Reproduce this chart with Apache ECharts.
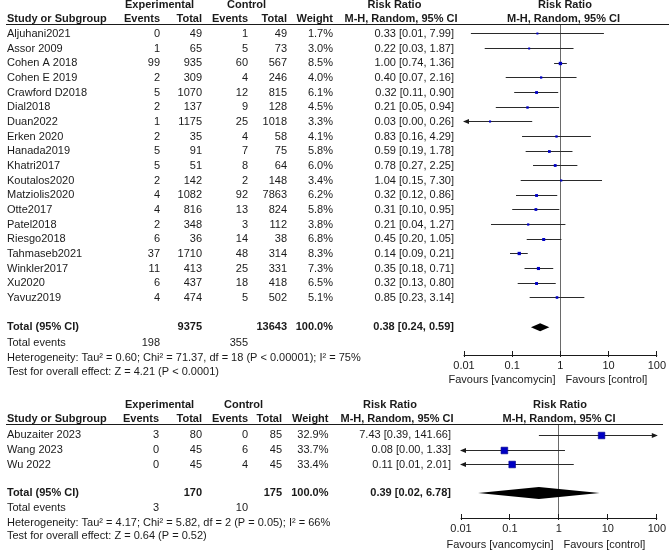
<!DOCTYPE html>
<html><head><meta charset="utf-8">
<script src="https://cdn.jsdelivr.net/npm/echarts@6/dist/echarts.min.js"></script>
<style>html,body{margin:0;padding:0;background:#fff}#c{width:669px;height:552px}</style>
</head><body><div id="c"></div>
<script>
// ---------- data ----------
const tickLabels = ['0.01', '0.1', '1', '10', '100'];
const tickValues = [0.01, 0.1, 1, 10, 100];

const names1 = ['Aljuhani2021','Assor 2009','Cohen A 2018','Cohen E 2019','Crawford D2018','Dial2018','Duan2022','Erken 2020','Hanada2019','Khatri2017','Koutalos2020','Matziolis2020','Otte2017','Patel2018','Riesgo2018','Tahmaseb2021','Winkler2017','Xu2020','Yavuz2019'];
const expEv1 = [0,1,99,2,5,2,1,2,5,5,2,4,4,2,6,37,11,6,4];
const expTot1 = [49,65,935,309,1070,137,1175,35,91,51,142,1082,816,348,36,1710,413,437,474];
const ctlEv1 = [1,5,60,4,12,9,25,4,7,8,2,92,13,3,14,48,25,18,5];
const ctlTot1 = [49,73,567,246,815,128,1018,58,75,64,148,7863,824,112,38,314,331,418,502];
const weight1 = [1.7,3.0,8.5,4.0,6.1,4.5,3.3,4.1,5.8,6.0,3.4,6.2,5.8,3.8,6.8,8.3,7.3,6.5,5.1];
const rr1 = [0.333,0.2246,1.00,0.398,0.32,0.2076,0.0347,0.83,0.59,0.78,1.04,0.32,0.31,0.2146,0.45,0.14,0.35,0.32,0.85];
const lo1 = [0.0139,0.0269,0.74,0.0734,0.11,0.0457,0.0047,0.16,0.19,0.27,0.15,0.12,0.10,0.0363,0.20,0.09,0.18,0.13,0.23];
const hi1 = [7.99,1.87,1.36,2.16,0.90,0.94,0.26,4.29,1.78,2.25,7.30,0.86,0.95,1.27,1.05,0.21,0.71,0.80,3.14];
const total1 = {exp: 9375, ctl: 13643, weight: '100.0%', rr: 0.38, lo: 0.2447, hi: 0.59, expEv: 198, ctlEv: 355};
const het1 = 'Heterogeneity: Tau² = 0.60; Chi² = 71.37, df = 18 (P < 0.00001); I² = 75%';
const test1 = 'Test for overall effect: Z = 4.21 (P < 0.0001)';

const names2 = ['Abuzaiter 2023','Wang 2023','Wu 2022'];
const expEv2 = [3,0,0];
const expTot2 = [80,45,45];
const ctlEv2 = [0,6,4];
const ctlTot2 = [85,45,45];
const weight2 = [32.9,33.7,33.4];
const rr2 = [7.43,0.077,0.111];
const lo2 = [0.39,0.0045,0.0062];
const hi2 = [141.66,1.33,2.01];
const total2 = {exp: 170, ctl: 175, weight: '100.0%', rr: 0.39, lo: 0.0224, hi: 6.78, expEv: 3, ctlEv: 10};
const het2 = 'Heterogeneity: Tau² = 4.17; Chi² = 5.82, df = 2 (P = 0.05); I² = 66%';
const test2 = 'Test for overall effect: Z = 0.64 (P = 0.52)';

const favLeft = 'Favours [vancomycin]';
const favRight = 'Favours [control]';

// ---------- layout ----------
const FF = '"Liberation Sans", Arial, sans-serif';
const TXT = '#1a1a1a';
const AXMIN = 0.01, AXMAX = 100;
const snap = v => Math.round(v - 0.5) + 0.5;

const layouts = [
  { grid: {left: 464, top: 24, width: 200, height: 331}, ymin: -0.68, ymax: 21.89,
    cols: {name: 7, expEv: 160, expTot: 202, ctlEv: 248, ctlTot: 287, weight: 333, rr: 454},
    expHdr: 125, ctlHdr: 227, rrHdr: 394.5, mhHdr: 401, plotHdr: 565, plotMh: 563.5,
    hdrRow1: -1.98, hdrRow2: -0.99, totalRow: 20, evRow: 21.09, hetRow: 22.11, testRow: 23.07,
    favRow: 23.6, lineEnd: 669, diamondH: 8 },
  { grid: {left: 461, top: 424, width: 198, height: 94}, ymin: -0.78, ymax: 5.63,
    cols: {name: 7, expEv: 159, expTot: 202, ctlEv: 248, ctlTot: 282, weight: 328.5, rr: 451},
    expHdr: 125, ctlHdr: 224, rrHdr: 390, mhHdr: 397, plotHdr: 560, plotMh: 559,
    hdrRow1: -2.09, hdrRow2: -1.12, totalRow: 3.93, evRow: 4.95, hetRow: 5.97, testRow: 6.88,
    favRow: 7.45, lineEnd: 663, diamondH: 12 }
];

const panels = [
  {names: names1, expEv: expEv1, expTot: expTot1, ctlEv: ctlEv1, ctlTot: ctlTot1, weight: weight1, rr: rr1, lo: lo1, hi: hi1, total: total1, het: het1, test: test1},
  {names: names2, expEv: expEv2, expTot: expTot2, ctlEv: ctlEv2, ctlTot: ctlTot2, weight: weight2, rr: rr2, lo: lo2, hi: hi2, total: total2, het: het2, test: test2}
];

function ciText(r, l, h) { return r.toFixed(2) + ' [' + l.toFixed(2) + ', ' + h.toFixed(2) + ']'; }

function buildTexts(p, L) {
  const c = L.cols, t = [];
  const add = (text, x, row, align, bold) => t.push({text: String(text), x, row, align, bold});
  add('Experimental', L.expHdr, L.hdrRow1, 'left', true);
  add('Control', L.ctlHdr, L.hdrRow1, 'left', true);
  add('Risk Ratio', L.rrHdr, L.hdrRow1, 'center', true);
  add('Risk Ratio', L.plotHdr, L.hdrRow1, 'center', true);
  add('Study or Subgroup', c.name, L.hdrRow2, 'left', true);
  add('Events', c.expEv, L.hdrRow2, 'right', true);
  add('Total', c.expTot, L.hdrRow2, 'right', true);
  add('Events', c.ctlEv, L.hdrRow2, 'right', true);
  add('Total', c.ctlTot, L.hdrRow2, 'right', true);
  add('Weight', c.weight, L.hdrRow2, 'right', true);
  add('M-H, Random, 95% CI', L.mhHdr, L.hdrRow2, 'center', true);
  add('M-H, Random, 95% CI', L.plotMh, L.hdrRow2, 'center', true);
  p.names.forEach((n, i) => {
    add(n, c.name, i, 'left', false);
    add(p.expEv[i], c.expEv, i, 'right', false);
    add(p.expTot[i], c.expTot, i, 'right', false);
    add(p.ctlEv[i], c.ctlEv, i, 'right', false);
    add(p.ctlTot[i], c.ctlTot, i, 'right', false);
    add(p.weight[i].toFixed(1) + '%', c.weight, i, 'right', false);
    add(ciText(p.rr[i], p.lo[i], p.hi[i]), c.rr, i, 'right', false);
  });
  const T = p.total;
  add('Total (95% CI)', c.name, L.totalRow, 'left', true);
  add(T.exp, c.expTot, L.totalRow, 'right', true);
  add(T.ctl, c.ctlTot, L.totalRow, 'right', true);
  add(T.weight, c.weight, L.totalRow, 'right', true);
  add(ciText(T.rr, T.lo, T.hi), c.rr, L.totalRow, 'right', true);
  add('Total events', c.name, L.evRow, 'left', false);
  add(T.expEv, c.expEv, L.evRow, 'right', false);
  add(T.ctlEv, c.ctlEv, L.evRow, 'right', false);
  add(p.het, c.name, L.hetRow, 'left', false);
  add(p.test, c.name, L.testRow, 'left', false);
  return t;
}

const option = {
  animation: false,
  backgroundColor: '#fff',
  grid: layouts.map(L => Object.assign({containLabel: false}, L.grid)),
  xAxis: layouts.map((L, gi) => ({
    type: 'log', logBase: 10, gridIndex: gi, min: AXMIN, max: AXMAX, position: 'bottom',
    axisLine: {show: true, onZero: false, lineStyle: {color: '#1a1a1a', width: 1}},
    axisTick: {show: false},
    splitLine: {show: false},
    minorTick: {show: false},
    axisLabel: {show: true, margin: 5, color: TXT, fontSize: 11, fontFamily: FF,
      formatter: (v, idx) => tickLabels[idx] !== undefined ? tickLabels[idx] : ''}
  })),
  yAxis: layouts.map((L, gi) => ({
    type: 'value', gridIndex: gi, inverse: true, min: L.ymin, max: L.ymax, show: false
  })),
  series: []
};

panels.forEach((p, gi) => {
  const L = layouts[gi];
  option.series.push({
    type: 'custom', xAxisIndex: gi, yAxisIndex: gi, z: 1,
    data: [[1, 0]], encode: {x: 0, y: 1},
    renderItem: (params, api) => {
      const cs = params.coordSys;
      const x1 = snap(api.coord([1, 0])[0]);
      const yb = cs.y + cs.height;
      const yt = snap(cs.y);
      const ch = [
        {type: 'line', shape: {x1: x1, y1: yt, x2: x1, y2: yb}, style: {stroke: '#6a6a6a', lineWidth: 1}},
        {type: 'line', shape: {x1: 6, y1: yt, x2: L.lineEnd, y2: yt}, style: {stroke: '#1a1a1a', lineWidth: 1.2}}
      ];
      tickValues.forEach(v => {
        const tx = snap(api.coord([v, 0])[0]);
        ch.push({type: 'line', shape: {x1: tx, y1: yb - 4, x2: tx, y2: yb + 2}, style: {stroke: '#1a1a1a', lineWidth: 1}});
      });
      const fy = api.coord([1, L.favRow])[1];
      ch.push({type: 'text', x: x1 - 5, y: fy, style: {text: favLeft, fill: TXT, font: '11px ' + FF, align: 'right', verticalAlign: 'middle', textAlign: 'right', textVerticalAlign: 'middle'}});
      ch.push({type: 'text', x: x1 + 5, y: fy, style: {text: favRight, fill: TXT, font: '11px ' + FF, align: 'left', verticalAlign: 'middle', textAlign: 'left', textVerticalAlign: 'middle'}});
      return {type: 'group', children: ch};
    }
  });
  option.series.push({
    type: 'custom', xAxisIndex: gi, yAxisIndex: gi, z: 3,
    data: p.names.map((n, i) => [p.rr[i], i, p.lo[i], p.hi[i], p.weight[i]]),
    encode: {x: 0, y: 1},
    renderItem: (params, api) => {
      const rr = api.value(0), row = api.value(1), lo = api.value(2), hi = api.value(3), w = api.value(4);
      const pc = api.coord([rr, row]);
      const y = snap(pc[1]);
      const xl = api.coord([Math.max(lo, AXMIN), row])[0];
      const xr = api.coord([Math.min(hi, AXMAX), row])[0];
      const ch = [{type: 'line', shape: {x1: xl, y1: y, x2: xr, y2: y}, style: {stroke: '#2a2a2a', lineWidth: 1}}];
      if (lo < AXMIN) ch.push({type: 'polygon', shape: {points: [[xl - 1, y], [xl + 5, y - 2.5], [xl + 5, y + 2.5]]}, style: {fill: '#1a1a1a'}});
      if (hi > AXMAX) ch.push({type: 'polygon', shape: {points: [[xr + 1, y], [xr - 5, y - 2.5], [xr - 5, y + 2.5]]}, style: {fill: '#1a1a1a'}});
      const s = Math.max(2, 1.15 * Math.sqrt(w));
      ch.push({type: 'rect', shape: {x: pc[0] - s / 2, y: y - s / 2, width: s, height: s}, style: {fill: '#0000c4', stroke: '#00008a', lineWidth: s > 4 ? 0.6 : 0}});
      return {type: 'group', children: ch};
    }
  });
  option.series.push({
    type: 'custom', xAxisIndex: gi, yAxisIndex: gi, z: 3,
    data: [[p.total.rr, L.totalRow, p.total.lo, p.total.hi]],
    encode: {x: 0, y: 1},
    renderItem: (params, api) => {
      const c = api.coord([api.value(0), api.value(1)]);
      const xl = api.coord([api.value(2), api.value(1)])[0];
      const xr = api.coord([api.value(3), api.value(1)])[0];
      const h = L.diamondH / 2;
      return {type: 'polygon', shape: {points: [[xl, c[1]], [c[0], c[1] - h], [xr, c[1]], [c[0], c[1] + h]]}, style: {fill: '#000'}};
    }
  });
  const texts = buildTexts(p, L);
  option.series.push({
    type: 'custom', xAxisIndex: gi, yAxisIndex: gi, z: 4, clip: false,
    data: texts.map((t, i) => [1, t.row, i]),
    encode: {x: 0, y: 1},
    renderItem: (params, api) => {
      const t = texts[api.value(2)];
      const y = api.coord([1, t.row])[1];
      return {type: 'text', x: t.x, y: y, style: {
        text: t.text, fill: TXT, font: (t.bold ? 'bold ' : '') + '11px ' + FF,
        align: t.align, verticalAlign: 'middle', textAlign: t.align, textVerticalAlign: 'middle'}};
    }
  });
});

const chart = echarts.init(document.getElementById('c'));
chart.setOption(option);
</script>
</body></html>
